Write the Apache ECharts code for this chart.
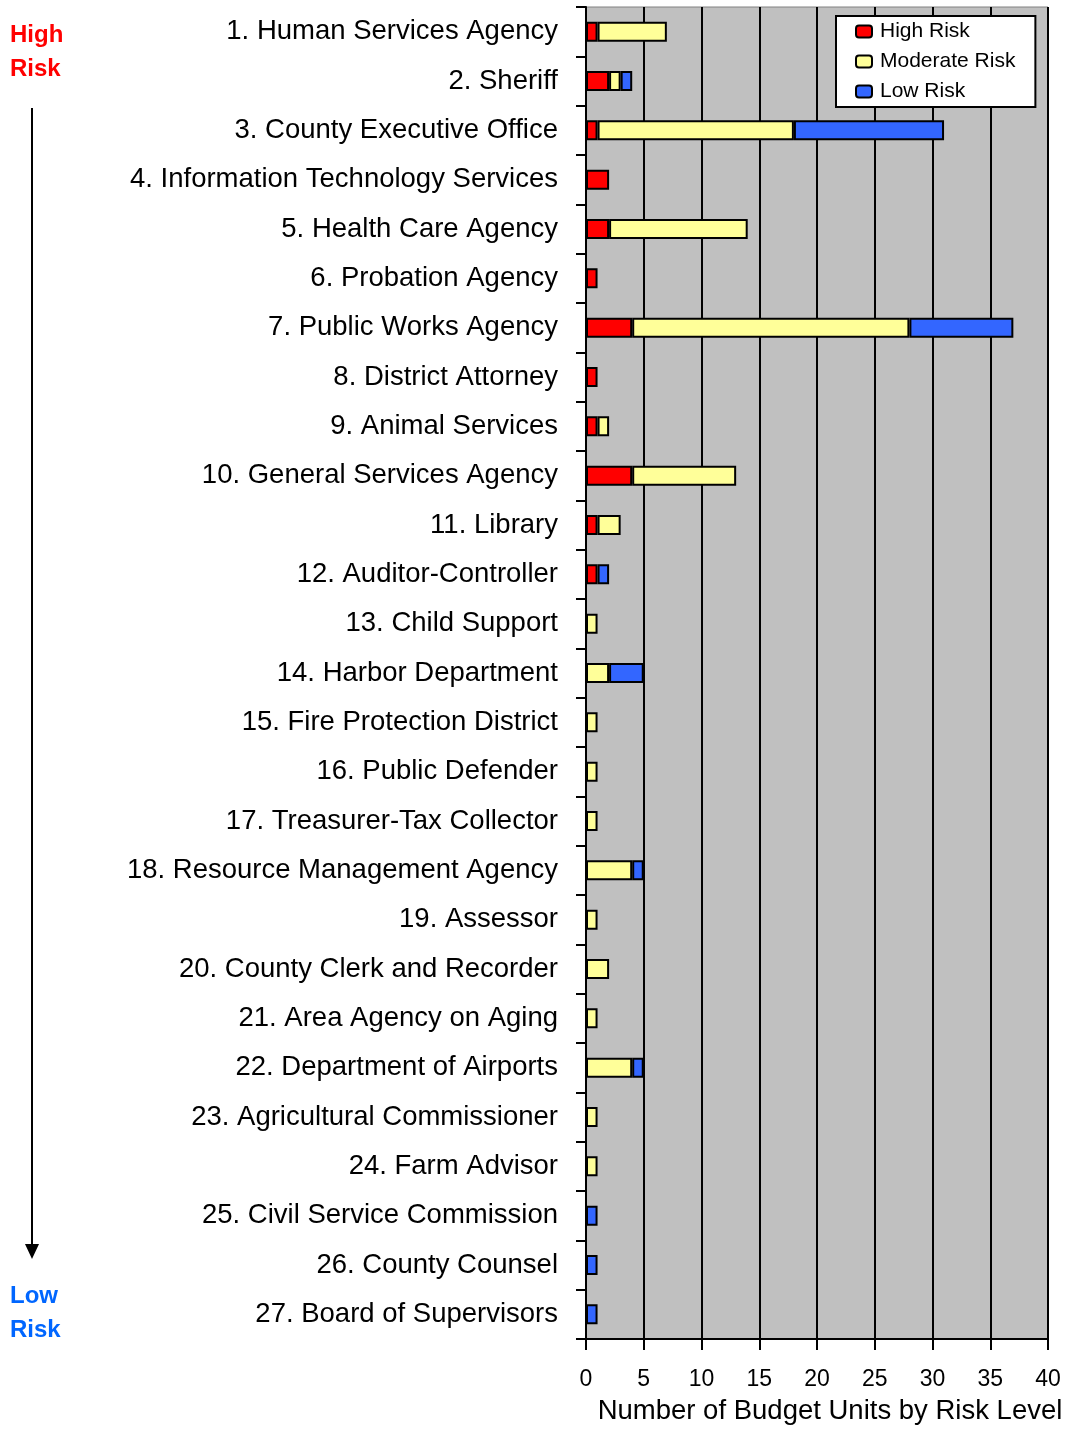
<!DOCTYPE html>
<html>
<head>
<meta charset="utf-8">
<script src="https://cdn.jsdelivr.net/npm/echarts@6/dist/echarts.min.js"></script>
<style>
html,body{margin:0;padding:0;background:#fff;}
#chart{width:1070px;height:1430px;}
</style>
</head>
<body>
<div id="chart"></div>
<script>
const categories = [
  "1. Human Services Agency",
  "2. Sheriff",
  "3. County Executive Office",
  "4. Information Technology Services",
  "5. Health Care Agency",
  "6. Probation Agency",
  "7. Public Works Agency",
  "8. District Attorney",
  "9. Animal Services",
  "10. General Services Agency",
  "11. Library",
  "12. Auditor-Controller",
  "13. Child Support",
  "14. Harbor Department",
  "15. Fire Protection District",
  "16. Public Defender",
  "17. Treasurer-Tax Collector",
  "18. Resource Management Agency",
  "19. Assessor",
  "20. County Clerk and Recorder",
  "21. Area Agency on Aging",
  "22. Department of Airports",
  "23. Agricultural Commissioner",
  "24. Farm Advisor",
  "25. Civil Service Commission",
  "26. County Counsel",
  "27. Board of Supervisors"
];
const highRisk     = [1,2,1,2,2,1,4,1,1,4,1,1,0,0,0,0,0,0,0,0,0,0,0,0,0,0,0];
const moderateRisk = [6,1,17,0,12,0,24,0,1,9,2,0,1,2,1,1,1,4,1,2,1,4,1,1,0,0,0];
const lowRisk      = [0,1,13,0,0,0,9,0,0,0,0,1,0,3,0,0,0,1,0,0,0,1,0,0,1,1,1];
const xTicks = [0,5,10,15,20,25,30,35,40];
const seriesNames = ["High Risk","Moderate Risk","Low Risk"];

const FONT = "'Liberation Sans', Arial, sans-serif";
const chart = echarts.init(document.getElementById('chart'));
const toData = arr => arr.map(v => v === 0 ? '-' : v);
const colors = ['#FF0000','#FFFF99','#3366FF'];
const values = [highRisk, moderateRisk, lowRisk];

chart.setOption({
  animation: false,
  backgroundColor: '#ffffff',
  textStyle: { fontFamily: FONT },
  grid: {
    left: 586, right: 22, top: 7, bottom: 86,
    show: true, backgroundColor: '#C0C0C0', borderColor: '#808080', borderWidth: 1
  },
  legend: {
    orient: 'vertical',
    left: 836, top: 16,
    data: seriesNames,
    backgroundColor: '#ffffff',
    borderColor: '#000000', borderWidth: 2, borderRadius: 0,
    padding: [5, 20, 5, 19],
    itemWidth: 16, itemHeight: 12, itemGap: 9,
    textStyle: { fontSize: 21, color: '#000', fontFamily: FONT, padding: [0,0,0,3] }
  },
  xAxis: {
    type: 'value', min: xTicks[0], max: xTicks[xTicks.length-1], interval: 5,
    name: 'Number of Budget Units by Risk Level',
    nameLocation: 'middle', nameGap: 58,
    nameTextStyle: { fontSize: 27.5, color: '#000', fontFamily: FONT, padding: [0,0,0,26] },
    axisLine: { show: true, lineStyle: { color: '#000', width: 2 } },
    axisTick: { show: true, length: 11, lineStyle: { color: '#000', width: 2 } },
    axisLabel: { fontSize: 23, color: '#000', margin: 29, fontFamily: FONT },
    splitLine: { show: true, lineStyle: { color: '#000', width: 2 } }
  },
  yAxis: {
    type: 'category', data: categories, inverse: true,
    axisLine: { show: true, lineStyle: { color: '#000', width: 2 } },
    axisTick: { show: true, length: 10, lineStyle: { color: '#000', width: 2 } },
    axisLabel: { fontSize: 27.5, color: '#000', margin: 28, fontFamily: FONT },
    splitLine: { show: false }
  },
  series: seriesNames.map((n, i) => ({
    name: n, type: 'bar', stack: 'risk',
    data: toData(values[i]),
    barWidth: 20,
    itemStyle: { color: colors[i], borderColor: '#000', borderWidth: 2 }
  })),
  graphic: [
    { type: 'text', left: 10, top: 18, style: { text: 'High\nRisk', fill: '#FF0000', font: "bold 24px " + FONT, lineHeight: 34 } },
    { type: 'text', left: 10, top: 1279, style: { text: 'Low\nRisk', fill: '#0066FF', font: "bold 24px " + FONT, lineHeight: 34 } },
    { type: 'line', shape: { x1: 32, y1: 108, x2: 32, y2: 1246 }, style: { stroke: '#000', lineWidth: 2 } },
    { type: 'polygon', shape: { points: [[25, 1244], [39, 1244], [32, 1259]] }, style: { fill: '#000' } }
  ]
});
</script>
</body>
</html>
